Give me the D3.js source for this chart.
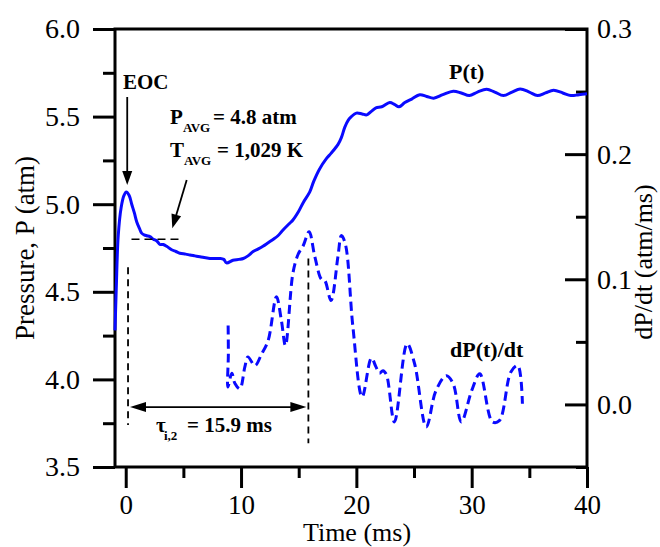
<!DOCTYPE html>
<html>
<head>
<meta charset="utf-8">
<script src="https://cdn.jsdelivr.net/npm/d3@7"></script>
<style>
  html, body { margin: 0; padding: 0; background: #fff; }
  svg { display: block; }
  text { font-family: "Liberation Serif", "Times New Roman", Times, serif; }
</style>
</head>
<body>
<svg id="chart" width="660" height="547"></svg>
<script>
// ---------------- data ----------------
const pTime = [-0.93, -0.82, -0.65, -0.4, -0.15, 0.05, 0.3, 0.52, 0.75, 0.95, 1.2, 1.38, 1.6, 1.82, 2.1, 2.4, 2.7, 2.97, 3.25, 3.55, 3.98, 4.35, 4.7, 5.2, 5.57, 6.0, 6.43, 7.3, 7.8, 8.16, 8.5, 8.74, 9.3, 9.8, 10.2, 10.6, 11.05, 11.5, 11.9, 12.35, 12.8, 13.2, 13.6, 14.2, 14.5, 15.0, 15.4, 15.96, 16.3, 16.8, 17.4, 17.8, 18.4, 18.7, 19.0, 19.3, 19.57, 20.0, 20.5, 20.9, 21.3, 21.7, 22.2, 22.9, 23.3, 23.7, 24.2, 24.8, 25.5, 26.1, 26.7, 27.5, 28.4, 29.1, 29.8, 30.5, 31.3, 32.0, 32.75, 33.5, 34.2, 35.0, 35.7, 36.4, 37.1, 37.9, 38.6, 39.3, 40.0];
const pVal  = [4.28, 4.52, 4.82, 4.98, 5.05, 5.07, 5.05, 5.00, 4.95, 4.90, 4.86, 4.835, 4.825, 4.82, 4.815, 4.80, 4.79, 4.77, 4.77, 4.76, 4.74, 4.73, 4.72, 4.715, 4.71, 4.705, 4.70, 4.69, 4.69, 4.69, 4.685, 4.665, 4.68, 4.685, 4.69, 4.705, 4.73, 4.745, 4.76, 4.78, 4.80, 4.82, 4.85, 4.89, 4.91, 4.96, 5.01, 5.07, 5.13, 5.20, 5.26, 5.29, 5.34, 5.38, 5.44, 5.48, 5.50, 5.52, 5.515, 5.51, 5.53, 5.55, 5.556, 5.58, 5.57, 5.556, 5.58, 5.60, 5.625, 5.615, 5.605, 5.625, 5.645, 5.635, 5.62, 5.64, 5.656, 5.64, 5.62, 5.64, 5.658, 5.64, 5.62, 5.635, 5.65, 5.635, 5.62, 5.625, 5.63];

const dTime = [8.88, 8.9, 8.86, 9.2, 9.46, 9.9, 10.33, 10.6, 11.2, 11.77, 12.35, 13.07, 13.5, 13.85, 14.5, 14.95, 15.4, 15.9, 16.4, 16.97, 17.26, 17.8, 18.4, 18.7, 19.05, 19.7, 20.5, 21.3, 21.7, 22.0, 22.3, 22.6, 23.3, 24.4, 25.05, 26.06, 26.9, 27.8, 28.4, 29.1, 30.0, 30.7, 31.8, 32.4, 33.4, 34.0, 34.4];
const dVal  = [0.063, 0.040, 0.014, 0.025, 0.017, 0.0125, 0.030, 0.038, 0.031, 0.040, 0.051, 0.086, 0.067, 0.047, 0.105, 0.120, 0.127, 0.138, 0.118, 0.100, 0.099, 0.083, 0.118, 0.135, 0.128, 0.062, 0.006, 0.037, 0.030, 0.025, 0.027, 0.024, -0.014, 0.0485, 0.0325, -0.018, 0.011, 0.023, 0.0165, -0.014, 0.011, 0.0245, -0.014, -0.013, 0.026, 0.031, 0.0005];

const xMajor = [0, 10, 20, 30, 40];
const xMinor = [5, 15, 25, 35];
const yLMajor = [3.5, 4.0, 4.5, 5.0, 5.5, 6.0];
const yLMinor = [3.75, 4.25, 4.75, 5.25, 5.75];
const yRMajor = [0.0, 0.1, 0.2, 0.3];
const yRMinor = [-0.05, 0.05, 0.15, 0.25];

const pAvg = 4.8;       // atm
const eocTime = 0.2;    // ms
const tauIgn = 15.9;    // ms

// ---------------- layout ----------------
const svg = d3.select("#chart");
const L = 115, R = 587, T = 29, B = 467;
const blue = "#0a0aff";

const x  = d3.scaleLinear().domain([-0.93, 40]).range([L, R]);
const yL = d3.scaleLinear().domain([3.5, 6.0]).range([B, T]);
const yR = d3.scaleLinear().domain([-0.05, 0.3]).range([B, T]);

function styleAxis(g, size) {
  g.select(".domain").remove();
  g.selectAll("line").attr("stroke", "#000").attr("stroke-width", 3);
  g.selectAll("text").attr("font-family", "Liberation Serif, Times New Roman, serif")
    .attr("font-size", size).attr("fill", "#000");
}

// Left axis
svg.append("g").attr("transform", `translate(${L},0)`)
  .call(d3.axisLeft(yL).tickValues(yLMinor).tickSize(12).tickFormat(""))
  .call(g => styleAxis(g, 28));
svg.append("g").attr("transform", `translate(${L},0)`)
  .call(d3.axisLeft(yL).tickValues(yLMajor).tickSize(22).tickPadding(13).tickFormat(d3.format(".1f")))
  .call(g => styleAxis(g, 28));

// Bottom axis
svg.append("g").attr("transform", `translate(0,${B})`)
  .call(d3.axisBottom(x).tickValues(xMinor).tickSize(11).tickFormat(""))
  .call(g => styleAxis(g, 28));
svg.append("g").attr("transform", `translate(0,${B})`)
  .call(d3.axisBottom(x).tickValues(xMajor).tickSize(21).tickPadding(7).tickFormat(d3.format("d")))
  .call(g => styleAxis(g, 27));

// Right axis (ticks inward)
svg.append("g").attr("transform", `translate(${R},0)`)
  .call(d3.axisRight(yR).tickValues(yRMinor).tickSize(-11).tickFormat(""))
  .call(g => styleAxis(g, 28));
svg.append("g").attr("transform", `translate(${R},0)`)
  .call(d3.axisRight(yR).tickValues(yRMajor).tickSize(-22).tickPadding(10).tickFormat(d3.format(".1f")))
  .call(g => styleAxis(g, 28));

// Frame
svg.append("rect").attr("x", L).attr("y", T).attr("width", R - L).attr("height", B - T)
  .attr("fill", "none").attr("stroke", "#000").attr("stroke-width", 3);

// Axis titles
svg.append("text").attr("x", 357).attr("y", 541).attr("text-anchor", "middle")
  .attr("font-size", 26).text("Time (ms)");
svg.append("text").attr("transform", `translate(34,${(T + B) / 2}) rotate(-90)`)
  .attr("text-anchor", "middle").attr("font-size", 27).text("Pressure, P (atm)");
svg.append("text").attr("transform", `translate(652,262) rotate(-90)`)
  .attr("text-anchor", "middle").attr("font-size", 26).text("dP/dt (atm/ms)");

// ---------------- curves ----------------
const pData = pTime.map((t, i) => [t, pVal[i]]);
const dData = dTime.map((t, i) => [t, dVal[i]]);

svg.append("path").datum(pData)
  .attr("fill", "none").attr("stroke", blue).attr("stroke-width", 3)
  .attr("stroke-linejoin", "round")
  .attr("d", d3.line().x(d => x(d[0])).y(d => yL(d[1])).curve(d3.curveCatmullRom.alpha(0.5)));

svg.append("path").datum(dData)
  .attr("fill", "none").attr("stroke", blue).attr("stroke-width", 3)
  .attr("stroke-dasharray", "9,5")
  .attr("d", d3.line().x(d => x(d[0])).y(d => yR(d[1])).curve(d3.curveCatmullRom.alpha(0.5)));

// ---------------- annotations ----------------
function arrowHead(x1, y1, x2, y2, len, half) {
  const a = Math.atan2(y2 - y1, x2 - x1);
  const bx = x2 - len * Math.cos(a), by = y2 - len * Math.sin(a);
  const px = -Math.sin(a) * half, py = Math.cos(a) * half;
  svg.append("path")
    .attr("d", `M${x2},${y2}L${bx + px},${by + py}L${bx - px},${by - py}Z`)
    .attr("fill", "#000");
}
function arrow(x1, y1, x2, y2, len, half, w) {
  const a = Math.atan2(y2 - y1, x2 - x1);
  svg.append("line").attr("x1", x1).attr("y1", y1)
    .attr("x2", x2 - (len * 0.8) * Math.cos(a)).attr("y2", y2 - (len * 0.8) * Math.sin(a))
    .attr("stroke", "#000").attr("stroke-width", w);
  arrowHead(x1, y1, x2, y2, len, half);
}

// dashed reference lines
svg.append("line").attr("x1", x(0.5)).attr("x2", x(4.85)).attr("y1", yL(pAvg)).attr("y2", yL(pAvg))
  .attr("stroke", "#000").attr("stroke-width", 1.6).attr("stroke-dasharray", "8,5");
svg.append("line").attr("x1", x(eocTime)).attr("x2", x(eocTime)).attr("y1", yL(4.64)).attr("y2", yL(3.74))
  .attr("stroke", "#000").attr("stroke-width", 1.8).attr("stroke-dasharray", "7,5");
svg.append("line").attr("x1", x(eocTime + tauIgn) - 3).attr("x2", x(eocTime + tauIgn) - 3)
  .attr("y1", yL(4.69)).attr("y2", yL(3.635))
  .attr("stroke", "#000").attr("stroke-width", 1.8).attr("stroke-dasharray", "7,5");

// double arrow for ignition delay
const yArr = yL(3.842);
const xa1 = x(eocTime) + 2, xa2 = x(eocTime + tauIgn) - 5;
svg.append("line").attr("x1", xa1 + 12).attr("x2", xa2 - 12).attr("y1", yArr).attr("y2", yArr)
  .attr("stroke", "#000").attr("stroke-width", 1.8);
arrowHead(xa2, yArr, xa1, yArr, 16, 5);
arrowHead(xa1, yArr, xa2, yArr, 16, 5);

// EOC arrow
arrow(x(0.13), 97, x(0.13), 185, 14, 5, 1.8);
// P_AVG arrow
arrow(186.7, 180, 172.3, 228.3, 14, 5, 1.8);

// texts
svg.append("text").attr("x", 123).attr("y", 89).attr("font-size", 21).attr("font-weight", "bold").text("EOC");

function subLabel(x0, y0, main, sub, rest, xSub, xRest, subSize, subDy) {
  const t = svg.append("text").attr("y", y0).attr("font-weight", "bold");
  t.append("tspan").attr("x", x0).attr("font-size", 21).text(main);
  t.append("tspan").attr("x", xSub).attr("y", y0 + subDy).attr("font-size", subSize).text(sub);
  t.append("tspan").attr("x", xRest).attr("y", y0).attr("font-size", 21).text(rest);
}
subLabel(170, 124, "P", "AVG", "= 4.8 atm", 183, 213, 13, 8);
subLabel(170, 157, "T", "AVG", "= 1,029 K", 184, 217, 13, 8);
subLabel(156, 432, "\u03C4", "i,2", "= 15.9 ms", 164, 187, 13, 8);

svg.append("text").attr("x", 449).attr("y", 79).attr("font-size", 22).attr("font-weight", "bold").text("P(t)");
svg.append("text").attr("x", 450).attr("y", 357).attr("font-size", 22).attr("font-weight", "bold").text("dP(t)/dt");
</script>
</body>
</html>
